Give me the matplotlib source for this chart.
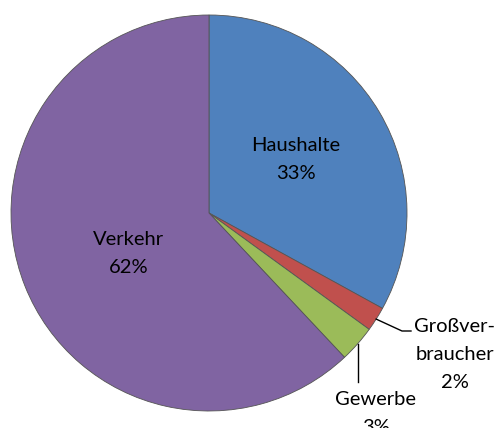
import numpy as np
import matplotlib.pyplot as plt

plt.rcParams['font.family'] = ['Lato', 'DejaVu Sans']

labels = ['Haushalte', 'Großver-\nbraucher', 'Gewerbe', 'Verkehr']
shares = [33, 2, 3, 62]
colors = ['#4F81BD', '#C0504D', '#9BBB59', '#8064A2']

W, H = 502, 428
fig = plt.figure(figsize=(W / 100, H / 100), dpi=100)
ax = fig.add_axes([0, 0, 1, 1])

cx, cy, r = 209, H - 213, 198
wedges, _ = ax.pie(shares, colors=colors, startangle=90, counterclock=False,
                   center=(cx, cy), radius=r,
                   wedgeprops=dict(edgecolor='#555555', linewidth=0.6))
ax.set_xlim(0, W)
ax.set_ylim(0, H)
ax.set_aspect('equal')
ax.axis('off')

fs = 14.5
pitch = 28


def put_label(text, x, y_first):
    # one line at a time, baseline-aligned, Excel-like line pitch
    for i, line in enumerate(text.split('\n')):
        ax.text(x, H - (y_first + i * pitch), line, ha='center', va='baseline',
                fontsize=fs)


put_label(f'{labels[0]}\n{shares[0]}%', 296, 151)
put_label(f'{labels[3]}\n{shares[3]}%', 129, 245)
put_label(f'{labels[1]}\n{shares[1]}%', 455, 332)
put_label(f'{labels[2]}\n{shares[2]}%', 376, 405)

# leader lines
a = np.deg2rad((wedges[1].theta1 + wedges[1].theta2) / 2)
x0, y0 = cx + r * np.cos(a), cy + r * np.sin(a)
ax.plot([x0, 402, 411], [y0, H - 331, H - 331], color='black', lw=1)

a = np.deg2rad((wedges[2].theta1 + wedges[2].theta2) / 2)
x1, y1 = cx + r * np.cos(a), cy + r * np.sin(a)
ax.plot([x1, x1], [y1, H - 382], color='black', lw=1)

fig.savefig('out.png', dpi=100)
